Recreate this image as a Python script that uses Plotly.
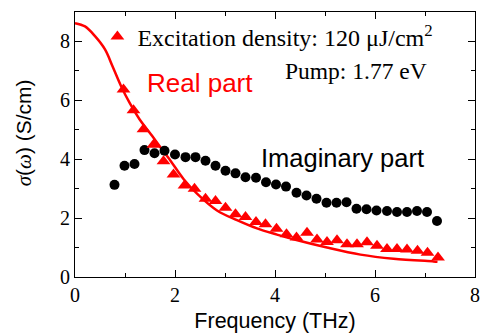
import plotly.graph_objects as go

# Imaginary part (black circles)
imag_x = [0.79, 0.99, 1.19, 1.39, 1.59, 1.79, 2.00, 2.21, 2.41, 2.61, 2.81, 3.01, 3.21,
          3.41, 3.62, 3.82, 4.02, 4.22, 4.43, 4.63, 4.83, 5.03, 5.23, 5.43, 5.63, 5.83,
          6.03, 6.24, 6.44, 6.64, 6.84, 7.04, 7.24]
imag_y = [3.13, 3.78, 3.84, 4.31, 4.20, 4.29, 4.16, 4.07, 4.07, 3.95, 3.78, 3.61, 3.52,
          3.39, 3.37, 3.22, 3.14, 3.07, 2.86, 2.77, 2.66, 2.52, 2.52, 2.54, 2.32, 2.30,
          2.26, 2.24, 2.21, 2.21, 2.24, 2.21, 1.90]

# Real part (red triangles)
real_x = [0.97, 1.17, 1.37, 1.57, 1.77, 1.97, 2.19, 2.39, 2.61, 2.81, 3.01, 3.21, 3.41,
          3.62, 3.81, 4.03, 4.23, 4.43, 4.64, 4.84, 5.04, 5.24, 5.44, 5.64, 5.84, 6.04,
          6.24, 6.44, 6.64, 6.85, 7.05, 7.26]
real_y = [6.37, 5.66, 5.02, 4.49, 3.93, 3.48, 3.11, 3.00, 2.66, 2.58, 2.35, 2.13, 2.04,
          1.87, 1.79, 1.64, 1.45, 1.34, 1.50, 1.27, 1.19, 1.25, 1.11, 1.11, 1.18, 1.06,
          0.95, 0.95, 0.93, 0.89, 0.82, 0.66]

# Fit curve (red line)
fit_x = [0.0, 0.2, 0.4, 0.6, 0.75, 0.92, 1.09, 1.29, 1.49, 1.69, 1.91, 2.17, 2.44, 2.84,
         3.24, 3.64, 4.04, 4.37, 5.04, 5.71, 6.37, 7.17, 7.25]
fit_y = [8.62, 8.51, 8.18, 7.73, 7.16, 6.49, 5.92, 5.36, 4.91, 4.45, 3.95, 3.33, 2.83, 2.26,
         1.93, 1.65, 1.44, 1.28, 1.00, 0.76, 0.62, 0.53, 0.52]

x_ticks = [0, 2, 4, 6, 8]
y_ticks = [0, 2, 4, 6, 8]

RED = "#ff0000"
SERIF = "Liberation Serif"
SANS = "Liberation Sans"

fig = go.Figure()
fig.add_trace(go.Scatter(x=fit_x, y=fit_y, mode="lines", line=dict(color=RED, width=2.5, shape="spline"),
                         showlegend=False, hoverinfo="skip"))
fig.add_trace(go.Scatter(x=imag_x, y=imag_y, mode="markers", name="Imaginary part",
                         marker=dict(symbol="circle", size=10, color="black"), showlegend=False))
fig.add_trace(go.Scatter(x=real_x, y=real_y, mode="markers",
                         name="Excitation density: 120 \u03bcJ/cm<sup>2</sup>",
                         marker=dict(symbol="triangle-up", size=12, color=RED), showlegend=True))

axis_common = dict(showline=True, linecolor="black", linewidth=1.2, mirror="ticks",
                   ticks="inside", ticklen=7, tickwidth=1, tickcolor="black",
                   showgrid=False, zeroline=False, automargin=False,
                   tickfont=dict(family=SERIF, size=20, color="black"),
                   minor=dict(ticks="inside", ticklen=4, tickwidth=1, tickcolor="black", dtick=1))

ytitle = ('<span style="font-family:Liberation Serif"><i>\u03c3</i></span>(<span style="font-family:Liberation Serif">'
          '<i>\u03c9</i></span>) (S/cm)')

fig.update_layout(
    width=491, height=333,
    margin=dict(l=75, r=16, t=12, b=56),
    paper_bgcolor="white", plot_bgcolor="white",
    xaxis=dict(range=[0, 8], tickvals=x_ticks, ticktext=[str(v) for v in x_ticks],
               title=dict(text="Frequency (THz)", font=dict(family=SANS, size=21.5, color="black"), standoff=7),
               **axis_common),
    yaxis=dict(range=[0, 9], tickvals=y_ticks, ticktext=[str(v) for v in y_ticks],
               **axis_common),
    legend=dict(x=0.056, y=0.906, xanchor="left", yanchor="middle", bgcolor="rgba(0,0,0,0)",
                font=dict(family=SERIF, size=24, color="black"), borderwidth=0),
    annotations=[
        dict(text=ytitle, xref="paper", yref="paper", x=-0.127, y=0.543, xanchor="center", yanchor="middle",
             textangle=-90, showarrow=False, font=dict(family=SANS, size=21, color="black")),
        dict(text="Real part", xref="paper", yref="paper", x=0.175, y=0.732, xanchor="left", yanchor="middle",
             showarrow=False, font=dict(family=SANS, size=26, color=RED)),
        dict(text="Imaginary part", xref="paper", yref="paper", x=0.46, y=0.449, xanchor="left", yanchor="middle",
             showarrow=False, font=dict(family=SANS, size=25.5, color="black")),
        dict(text="Pump: 1.77 eV", xref="paper", yref="paper", x=0.886, y=0.777, xanchor="right", yanchor="middle",
             showarrow=False, font=dict(family=SERIF, size=23.5, color="black")),
    ],
)

fig.write_html("out.html", config={"displayModeBar": False},
               post_script="document.body.style.margin='0';")
